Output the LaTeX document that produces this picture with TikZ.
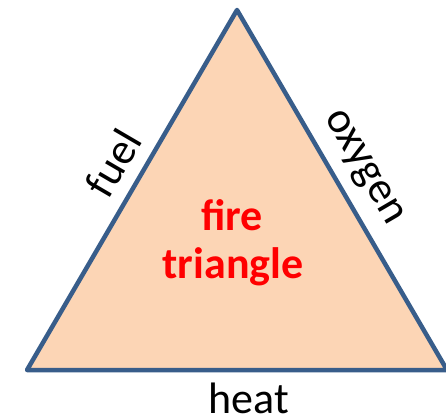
\documentclass[tikz,border=0pt]{standalone}
\usepackage{fontspec}
\setmainfont{Carlito}
\definecolor{peach}{RGB}{252,213,181}
\definecolor{edgeblue}{RGB}{56,93,138}
\tikzset{
  sidelabel/.style={font=\fontsize{44}{48}\selectfont, text=black, inner sep=0pt},
  titletext/.style={font=\fontsize{44}{48}\selectfont\bfseries, text=red, inner sep=0pt, anchor=base},
  firetri/.style={draw=edgeblue, fill=peach, line width=4.5pt, line join=round}
}
\begin{document}
\begin{tikzpicture}[x=1pt,y=-1pt]
\useasboundingbox (0,0) rectangle (446,419);
\coordinate (L) at (27,370);
\coordinate (T) at (237,10);
\coordinate (R) at (447,370);
\draw[firetri] (L) -- (T) -- (R) -- cycle;
\node[sidelabel, rotate=59.7] (fuel) at (113,163) {fuel};
\node[sidelabel, rotate=-59.7] (oxygen) at (362,168) {oxygen};
\node[sidelabel, anchor=base] (heat) at (249,413) {heat};
\node[titletext] (fire) at (232,230) {fire};
\node[titletext] (triangle) at (233,278) {triangle};
\end{tikzpicture}
\end{document}
